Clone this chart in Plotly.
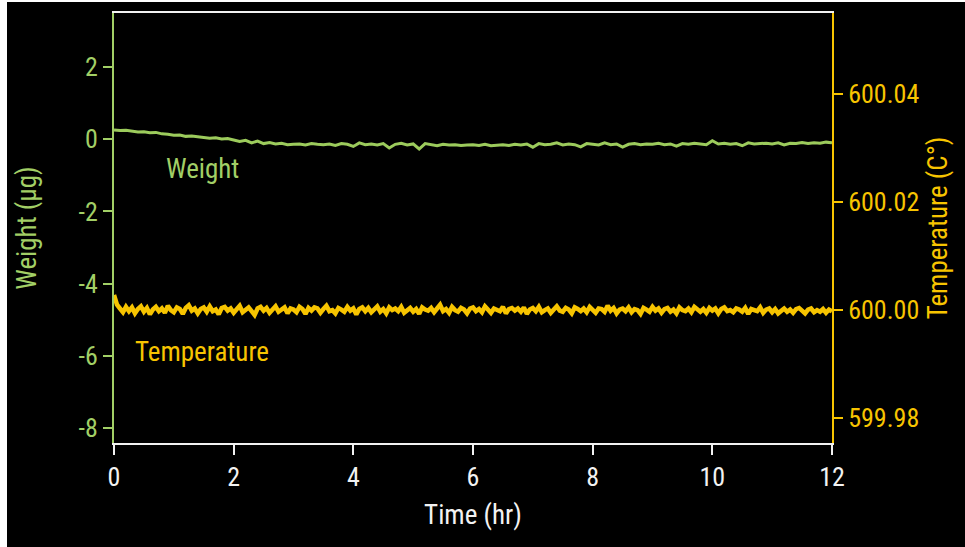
import numpy as np
import plotly.graph_objects as go

# ---- data ----
x_ticks = [0, 2, 4, 6, 8, 10, 12]
weight_ticks = [2, 0, -2, -4, -6, -8]
weight_ticktext = ["2", "0", "-2", "-4", "-6", "-8"]
temp_ticks = [599.98, 600.00, 600.02, 600.04]
temp_ticktext = ["599.98", "600.00", "600.02", "600.04"]

# weight, one sample every 0.1 hr (µg)
weight_time = np.round(np.arange(0, 12.0001, 0.1), 3)
weight = [
    0.26, 0.24, 0.25, 0.22, 0.20, 0.21, 0.18, 0.19, 0.15, 0.14,
    0.11, 0.12, 0.08, 0.09, 0.06, 0.05, 0.03, 0.04, 0.01, 0.02,
    -0.02, -0.06, -0.03, -0.10, -0.05, -0.12, -0.09, -0.13, -0.11, -0.15,
    -0.14, -0.13, -0.16, -0.12, -0.14, -0.15, -0.13, -0.17, -0.12, -0.14,
    -0.20, -0.10, -0.15, -0.13, -0.16, -0.12, -0.24, -0.14, -0.11, -0.16,
    -0.13, -0.27, -0.12, -0.15, -0.18, -0.14, -0.16, -0.15, -0.17, -0.16,
    -0.15, -0.17, -0.14, -0.18, -0.16, -0.15, -0.17, -0.14, -0.16, -0.13,
    -0.22, -0.12, -0.15, -0.14, -0.10, -0.16, -0.13, -0.15, -0.21, -0.12,
    -0.14, -0.16, -0.10, -0.15, -0.13, -0.22, -0.14, -0.12, -0.15, -0.13,
    -0.14, -0.11, -0.15, -0.13, -0.19, -0.12, -0.14, -0.11, -0.13, -0.15,
    -0.04, -0.13, -0.11, -0.14, -0.12, -0.18, -0.10, -0.13, -0.12, -0.11,
    -0.13, -0.10, -0.16, -0.11, -0.12, -0.09, -0.12, -0.10, -0.11, -0.08,
    -0.10,
]

# temperature deviation from 600 °C in units of 0.0001 °C, one sample every 0.05 hr
temp_time = np.round(np.arange(0, 12.0001, 0.05), 3)
temp_dev_1e4 = [
    28, 10, 3, -4, 6, -2, 5, -6, 2, 7, -3, 4, -8, 1, 6, -2, 3, -5, 8, 0,
    -4, 5, 2, -7, 4, 9, -1, 3, -6, 2, 5, -3, 7, -2, 1, -8, 4, 6, -1, 3,
    -5, 2, 8, -4, 1, 5, -2, -9, 3, 6, -1, 4, -5, 2, 7, -3, 0, 5, -6, 3,
    1, -4, 6, 2, -7, 4, -1, 5, 3, -5, 2, 8, -2, 0, -6, 4, 1, -3, 6, -1,
    3, -8, 2, 5, -2, 4, -4, 1, 7, -3, 2, -6, 5, 0, 3, -2, 6, -5, 1, 4,
    -3, 2, -7, 5, 1, -1, 4, -4, 3, 10, -2, 2, -5, 6, 0, -3, 4, 1, -6, 3,
    5, -2, 2, -4, 7, 0, -5, 3, 1, -2, 6, -6, 2, 4, -1, 3, -3, 5, -7, 1,
    4, -2, 6, -4, 0, 3, -5, 2, 7, -1, -3, 4, 1, -6, 5, 2, -2, 3, -4, 6,
    0, -5, 3, 2, -3, 8, -1, 4, -6, 1, 3, -2, 5, -4, 2, 0, -7, 4, 1, -3,
    6, -1, 3, -5, 2, 4, -3, 1, -6, 5, 0, -2, 3, -4, 6, 1, -3, 2, -5, 4,
    -1, 3, -6, 2, 5, -2, 0, -4, 3, 1, -3, 4, -7, 2, 0, -2, 5, -5, 1, 3,
    -4, 2, -6, 0, 3, -3, 1, -5, 2, 4, -2, -6, 1, 3, -4, 0, -3, 2, -5, 1, -2,
]
temperature = 600 + np.array(temp_dev_1e4) * 1e-4

# ---- styling ----
GREEN = "#a2cf66"
GREEN_LINE = "#9ccb5c"
YELLOW = "#f7c400"
WHITE = "#f2f2f2"
FONT = "Liberation Sans Narrow, Arial Narrow, Roboto Condensed, Liberation Sans, sans-serif"

W, H = 965, 547
L, R, T, B = 114, 133, 13, 104
pw, ph = W - L - R, H - T - B

fig = go.Figure()
fig.add_trace(go.Scatter(
    x=weight_time, y=weight, mode="lines", name="Weight",
    line=dict(color=GREEN_LINE, width=3), yaxis="y", showlegend=False,
))
fig.add_trace(go.Scatter(
    x=temp_time, y=temperature, mode="lines", name="Temperature",
    line=dict(color=YELLOW, width=4.5), yaxis="y2", showlegend=False,
))

fig.update_layout(
    width=W, height=H,
    margin=dict(l=L, r=R, t=T, b=B),
    paper_bgcolor="black",
    plot_bgcolor="black",
    font=dict(family=FONT, size=26, color=WHITE),
    xaxis=dict(
        range=[0, 12], tickvals=x_ticks, ticktext=[str(v) for v in x_ticks],
        showgrid=False, zeroline=False,
        showline=True, linecolor=WHITE, linewidth=2, mirror=True,
        ticks="outside", ticklen=10, tickwidth=2, tickcolor=WHITE,
        tickfont=dict(color=WHITE, size=26),
        title=dict(text="Time (hr)", font=dict(color=WHITE, size=27), standoff=14),
    ),
    yaxis=dict(
        range=[-8.42, 3.5], tickvals=weight_ticks, ticktext=weight_ticktext,
        showgrid=False, zeroline=False,
        showline=True, linecolor=GREEN, linewidth=2,
        ticks="outside", ticklen=9, tickwidth=2, tickcolor=GREEN,
        tickfont=dict(color=GREEN, size=26),
        title=dict(text="Weight (µg)", font=dict(color=GREEN, size=27), standoff=34),
    ),
    yaxis2=dict(
        range=[599.9754, 600.055], tickvals=temp_ticks, ticktext=temp_ticktext,
        overlaying="y", side="right", anchor="x",
        showgrid=False, zeroline=False,
        showline=True, linecolor=YELLOW, linewidth=2,
        ticks="outside", ticklen=9, tickwidth=2, tickcolor=YELLOW,
        tickfont=dict(color=YELLOW, size=26),
        title=dict(text="Temperature (C°)", font=dict(color=YELLOW, size=27), standoff=10),
    ),
    shapes=[
        # white strip along the left edge of the picture
        dict(type="rect", xref="paper", yref="paper", layer="below",
             x0=-L / pw, x1=(7 - L) / pw, y0=-1, y1=2,
             fillcolor="white", line=dict(width=0)),
        # white strip along the top edge of the picture
        dict(type="rect", xref="paper", yref="paper", layer="below",
             x0=-1, x1=2, y0=1 + (T - 2) / ph, y1=1 + T / ph + 0.01,
             fillcolor="white", line=dict(width=0)),
    ],
    annotations=[
        dict(x=1.48, y=-0.82, xref="x", yref="y", text="Weight", showarrow=False,
             font=dict(color=GREEN, size=27, family=FONT)),
        dict(x=1.47, y=-5.91, xref="x", yref="y", text="Temperature", showarrow=False,
             font=dict(color=YELLOW, size=27, family=FONT)),
    ],
)

fig.write_html("out.html")
